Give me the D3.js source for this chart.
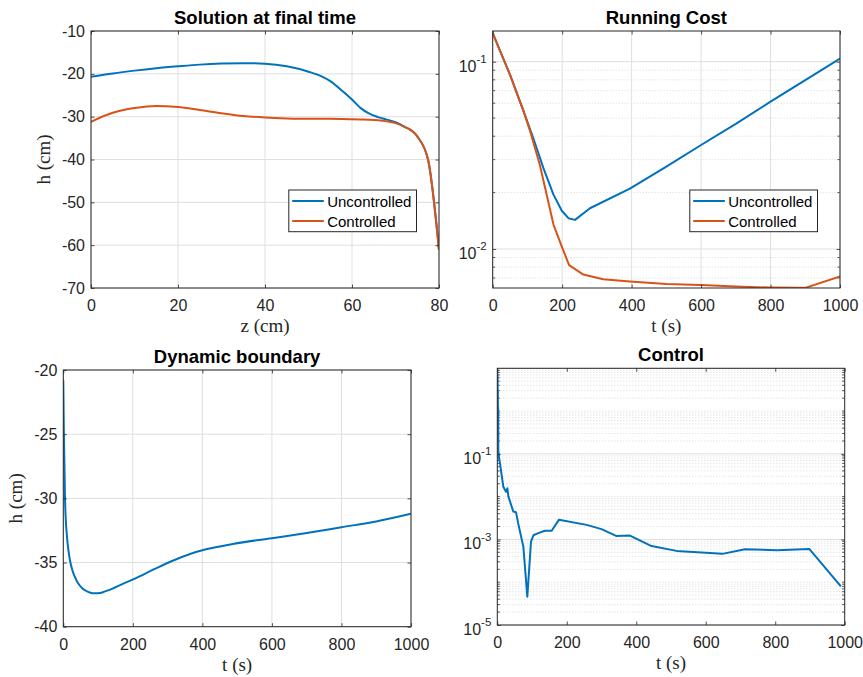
<!DOCTYPE html>
<html>
<head>
<meta charset="utf-8">
<script src="https://cdn.jsdelivr.net/npm/d3@7"></script>
<style>
  body { margin: 0; background: #fff; }
  svg { display: block; font-family: "Liberation Sans", Arial, Helvetica, sans-serif; }
</style>
</head>
<body>
<svg id="canvas"></svg>
<script>
// ---- data ----
let seriesNames = ['Uncontrolled', 'Controlled']
let colors = ['#0072BD', '#D95319']

// solution at final time
let zPos = [0, 5, 10, 15, 20, 25, 30, 35, 40, 45, 50, 53, 55, 58, 60, 62, 64, 66, 68, 70, 72, 75, 77.5, 80]
let hUncontrolled = [-20.7, -19.9, -19.25, -18.7, -18.25, -17.85, -17.6, -17.5, -17.65, -18.25, -19.5, -20.6, -21.7, -24.2, -26.0, -28.0, -29.3, -30.1, -30.7, -31.3, -32.3, -34.6, -40.1, -61.1]
let hControlled = [-31.2, -29.1, -28.0, -27.5, -27.75, -28.45, -29.2, -29.85, -30.2, -30.4, -30.5, -30.5, -30.5, -30.55, -30.6, -30.65, -30.7, -30.85, -31.1, -31.5, -32.3, -34.6, -40.1, -61.1]

// running cost
let costTimeUncontrolled = [0, 50, 88, 117, 146, 175, 199, 218, 237, 280, 395, 500, 600, 700, 800, 900, 1000]
let costUncontrolled = [0.142, 0.085, 0.055, 0.039, 0.027, 0.0195, 0.016, 0.0146, 0.0143, 0.0165, 0.021, 0.0275, 0.0359, 0.0465, 0.0612, 0.0798, 0.104]
let costTimeControlled = [0, 50, 88, 107, 136, 175, 199, 220, 261, 318, 395, 500, 600, 700, 800, 880, 900, 1000]
let costControlled = [0.142, 0.085, 0.055, 0.043, 0.028, 0.0135, 0.0103, 0.0082, 0.0073, 0.0069, 0.0067, 0.0065, 0.00643, 0.0063, 0.00622, 0.0062, 0.0062, 0.00714]

// dynamic boundary
let boundaryTime = [0, 1.5, 3, 5, 7, 10, 14, 19, 25, 33, 42, 53, 65, 78, 91, 105, 120, 140, 168, 206, 263, 320, 400, 450, 488, 600, 700, 800, 900, 1000]
let boundaryHead = [-20.8, -24.5, -27.0, -30.1, -31.6, -32.8, -33.9, -34.8, -35.5, -36.1, -36.6, -36.96, -37.2, -37.35, -37.4, -37.38, -37.25, -37.05, -36.7, -36.25, -35.5, -34.8, -34.05, -33.75, -33.55, -33.1, -32.7, -32.25, -31.8, -31.2]

// control
let controlTime = [0, 0.4, 0.8, 1.2, 1.6, 2, 2.5, 3, 5, 7.8, 12.6, 17.4, 25, 29, 32, 46, 54, 60, 75, 86.4, 97, 104, 118, 137, 156.5, 177.6, 257, 300, 342, 382, 444, 516, 648, 713, 804, 898, 989]
let controlValue = [9, 1.5, 7, 0.8, 3, 0.4, 1.2, 0.12, 0.08, 0.06, 0.032, 0.017, 0.013, 0.0157, 0.01, 0.0045, 0.0043, 0.0024, 0.00068, 0.0000457, 0.00089, 0.00125, 0.0014, 0.0016, 0.0016, 0.0029, 0.00219, 0.00174, 0.00121, 0.00123, 0.0007, 0.00054, 0.00046, 0.00059, 0.00056, 0.0006, 0.00008]

// ticks
let zTicks = [0, 20, 40, 60, 80]
let hTicks = [-70, -60, -50, -40, -30, -20, -10]
let tTicks = [0, 200, 400, 600, 800, 1000]
let boundaryTicks = [-40, -35, -30, -25, -20]
let costTicks = [0.01, 0.1]
let controlTicks = [1e-5, 1e-3, 1e-1]
let controlGridTicks = [1e-5, 1e-3, 1e-1, 1e1]

// ---- layout ----
let width = 863
let height = 677
let axisColor = '#262626'
let gridColor = '#dfdfdf'
let minorGridColor = '#cfcfcf'
let tickLen = 3.5

let svg = d3.select('#canvas')
            .attr('width', width)
            .attr('height', height)

let minorLogValues = (lo, hi) => {
    let out = []
    for (let k = Math.floor(Math.log10(lo)); k <= Math.ceil(Math.log10(hi)); k++) {
        for (let m = 1; m <= 9; m++) {
            let v = m * Math.pow(10, k)
            if (v >= lo && v <= hi) out.push(v)
        }
    }
    return out
}

let drawPanel = (id, box, opt) => {
    let g = svg.append('g')
               .attr('transform', 'translate(' + box.x + ',' + box.y + ')')

    let x = d3.scaleLinear().domain(opt.xDomain).range([0, box.w])
    let y = (opt.log ? d3.scaleLog() : d3.scaleLinear()).domain(opt.yDomain).range([box.h, 0])

    // minor grid (log panels)
    if (opt.log) {
        let minors = minorLogValues(opt.yDomain[0], opt.yDomain[1])
                        .filter(v => opt.yGrid.indexOf(v) < 0)
        g.selectAll('.minor-grid')
            .data(minors)
            .enter()
            .append('line')
            .attr('x1', 0).attr('x2', box.w)
            .attr('y1', d => y(d)).attr('y2', d => y(d))
            .attr('stroke', minorGridColor)
            .attr('stroke-width', 0.8)
            .attr('stroke-dasharray', '1,2')

        // minor ticks on left and right
        ;[0, box.w].forEach((xx, i) => {
            g.selectAll('.minor-tick' + i)
                .data(minors)
                .enter()
                .append('line')
                .attr('x1', xx).attr('x2', i === 0 ? xx + 2.5 : xx - 2.5)
                .attr('y1', d => y(d)).attr('y2', d => y(d))
                .attr('stroke', axisColor)
                .attr('stroke-width', 0.8)
        })
    }

    // major grid
    g.selectAll('.hgrid')
        .data(opt.yGrid)
        .enter()
        .append('line')
        .attr('x1', 0).attr('x2', box.w)
        .attr('y1', d => y(d)).attr('y2', d => y(d))
        .attr('stroke', gridColor)
        .attr('stroke-width', 1)

    if (opt.xGrid) {
        g.selectAll('.vgrid')
            .data(opt.xTicks)
            .enter()
            .append('line')
            .attr('x1', d => x(d)).attr('x2', d => x(d))
            .attr('y1', 0).attr('y2', box.h)
            .attr('stroke', gridColor)
            .attr('stroke-width', 1)
    }

    // data lines
    svg.append('clipPath')
        .attr('id', 'clip-' + id)
        .append('rect')
        .attr('width', box.w)
        .attr('height', box.h)

    let plotArea = g.append('g').attr('clip-path', 'url(#clip-' + id + ')')

    opt.series.forEach((s) => {
        let pts = s.xs.map((v, i) => [v, s.ys[i]])
        let line = d3.line()
                     .x(d => x(d[0]))
                     .y(d => y(d[1]))
                     .curve(opt.smooth ? d3.curveMonotoneX : d3.curveLinear)
        plotArea.append('path')
            .datum(pts)
            .attr('d', line)
            .attr('fill', 'none')
            .attr('stroke', s.color)
            .attr('stroke-width', 2)
            .attr('stroke-linejoin', 'round')
    })

    // axes (ticks pointing inward)
    let bottom = g.append('g')
                  .attr('transform', 'translate(0,' + box.h + ')')
                  .call(d3.axisBottom(x).tickValues(opt.xTicks).tickSize(-tickLen).tickPadding(12).tickFormat(d => String(d)))
    let top = g.append('g')
               .call(d3.axisTop(x).tickValues(opt.xTicks).tickSize(-tickLen).tickFormat(''))
    let left = g.append('g')
                .call(d3.axisLeft(y).tickValues(opt.yTicks).tickSize(-tickLen).tickPadding(6)
                        .tickFormat(opt.log ? '' : (d => String(d))))
    let right = g.append('g')
                 .attr('transform', 'translate(' + box.w + ',0)')
                 .call(d3.axisRight(y).tickValues(opt.yTicks).tickSize(-tickLen).tickFormat(''))

    ;[bottom, top, left, right].forEach((a) => {
        a.select('.domain').remove()
        a.selectAll('line').attr('stroke', axisColor).attr('stroke-width', 0.8)
        a.selectAll('text')
            .attr('fill', axisColor)
            .style('font-size', '16px')
            .style('font-family', '"Liberation Sans", Arial, Helvetica, sans-serif')
    })

    if (opt.log) {
        let lab = g.selectAll('.loglabel')
                   .data(opt.yTicks)
                   .enter()
                   .append('text')
                   .attr('x', -6)
                   .attr('y', d => y(d) + 10)
                   .attr('text-anchor', 'end')
                   .attr('fill', axisColor)
                   .style('font-size', '16px')
        lab.append('tspan').text('10')
        lab.append('tspan')
            .attr('dy', -8.5)
            .style('font-size', '11.5px')
            .text(d => String(Math.round(Math.log10(d))))
    }

    // box
    g.append('rect')
        .attr('width', box.w)
        .attr('height', box.h)
        .attr('fill', 'none')
        .attr('stroke', axisColor)
        .attr('stroke-width', 1)

    // title and labels
    g.append('text')
        .attr('x', box.w / 2)
        .attr('y', -7)
        .attr('text-anchor', 'middle')
        .attr('fill', '#000')
        .style('font-size', '18.5px')
        .style('font-weight', 'bold')
        .text(opt.title)

    g.append('text')
        .attr('x', box.w / 2)
        .attr('y', box.h + 44)
        .attr('text-anchor', 'middle')
        .attr('fill', axisColor)
        .style('font-family', '"Liberation Serif", "Times New Roman", serif')
        .style('font-size', '19px')
        .text(opt.xLabel)

    if (opt.yLabel) {
        g.append('text')
            .attr('transform', 'translate(-41.5,' + (box.h / 2) + ') rotate(-90)')
            .attr('text-anchor', 'middle')
            .attr('fill', axisColor)
            .style('font-family', '"Liberation Serif", "Times New Roman", serif')
            .style('font-size', '19px')
            .text(opt.yLabel)
    }

    // legend
    if (opt.legend) {
        let lw = 127.7
        let lh = 41.7
        let lg = g.append('g')
                  .attr('transform', 'translate(' + (box.w - 22.5 - lw) + ',' + (box.h - 56.3 - lh) + ')')
        lg.append('rect')
            .attr('width', lw)
            .attr('height', lh)
            .attr('fill', '#fff')
            .attr('stroke', axisColor)
            .attr('stroke-width', 1)
        opt.series.forEach((s, i) => {
            let cy = 11 + i * 20
            lg.append('line')
                .attr('x1', 3.4).attr('x2', 35)
                .attr('y1', cy).attr('y2', cy)
                .attr('stroke', s.color)
                .attr('stroke-width', 2)
            lg.append('text')
                .attr('x', 38.4)
                .attr('y', cy + 5.5)
                .attr('fill', '#000')
                .style('font-size', '15px')
                .text(s.name)
        })
    }
}

drawPanel('final', { x: 91, y: 31, w: 348, h: 257 }, {
    title: 'Solution at final time',
    xLabel: 'z (cm)',
    yLabel: 'h (cm)',
    xDomain: [0, 80],
    yDomain: [-70, -10],
    xTicks: zTicks,
    yTicks: hTicks,
    yGrid: hTicks,
    xGrid: true,
    smooth: true,
    legend: true,
    series: [
        { name: seriesNames[0], color: colors[0], xs: zPos, ys: hUncontrolled },
        { name: seriesNames[1], color: colors[1], xs: zPos, ys: hControlled }
    ]
})

drawPanel('cost', { x: 492.7, y: 31, w: 347.3, h: 257 }, {
    title: 'Running Cost',
    xLabel: 't (s)',
    xDomain: [0, 1000],
    yDomain: [0.00619, 0.1458],
    log: true,
    xTicks: tTicks,
    yTicks: costTicks,
    yGrid: costTicks,
    xGrid: true,
    legend: true,
    series: [
        { name: seriesNames[0], color: colors[0], xs: costTimeUncontrolled, ys: costUncontrolled },
        { name: seriesNames[1], color: colors[1], xs: costTimeControlled, ys: costControlled }
    ]
})

drawPanel('boundary', { x: 63.3, y: 370, w: 347.7, h: 256.7 }, {
    title: 'Dynamic boundary',
    xLabel: 't (s)',
    yLabel: 'h (cm)',
    xDomain: [0, 1000],
    yDomain: [-40, -20],
    xTicks: tTicks,
    yTicks: boundaryTicks,
    yGrid: boundaryTicks,
    xGrid: true,
    smooth: true,
    series: [
        { name: 'h', color: colors[0], xs: boundaryTime, ys: boundaryHead }
    ]
})

drawPanel('control', { x: 497.3, y: 368.3, w: 347.4, h: 256.7 }, {
    title: 'Control',
    xLabel: 't (s)',
    xDomain: [0, 1000],
    yDomain: [1e-5, 1e1],
    log: true,
    xTicks: tTicks,
    yTicks: controlTicks,
    yGrid: controlGridTicks,
    xGrid: false,
    series: [
        { name: 'u', color: colors[0], xs: controlTime, ys: controlValue }
    ]
})
</script>
</body>
</html>
